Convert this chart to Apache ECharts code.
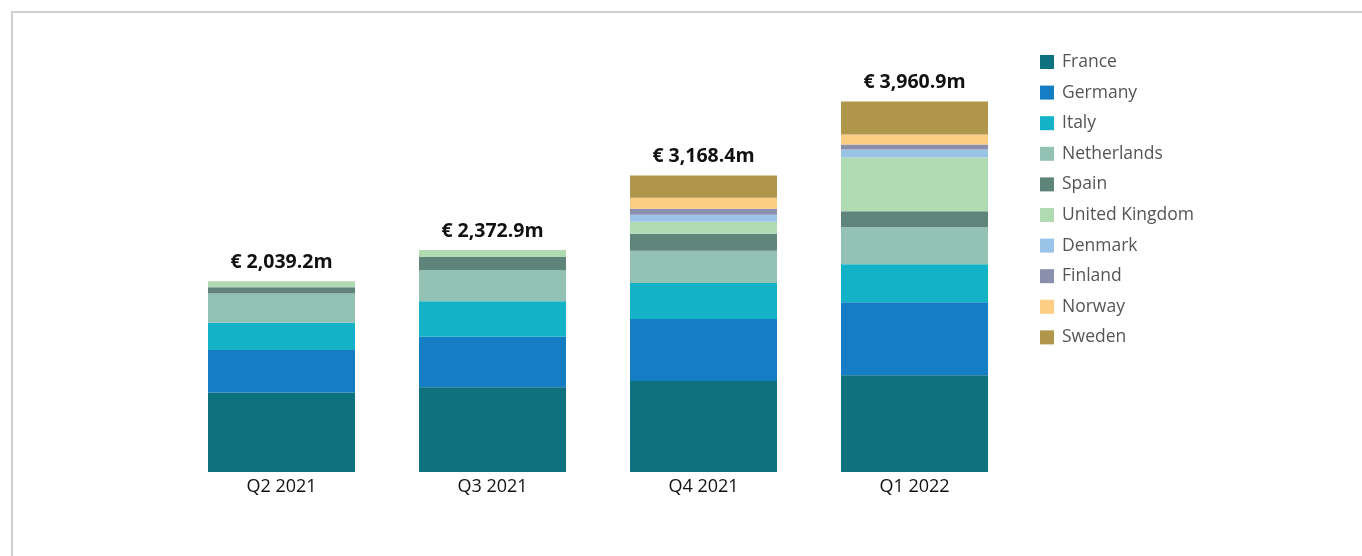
<!DOCTYPE html>
<html>
<head>
<meta charset="utf-8">
<script src="https://cdn.jsdelivr.net/npm/echarts@6/dist/echarts.min.js"></script>
<style>
  html, body { margin: 0; padding: 0; background: #fff; }
  #chart { width: 1362px; height: 556px; }
</style>
</head>
<body>
<div id="chart"></div>
<script>
// quarters on the x axis
const quarters = ['Q2 2021', 'Q3 2021', 'Q4 2021', 'Q1 2022'];
// totals shown above each bar (€m)
const totals = [2039.2, 2372.9, 3168.4, 3960.9];

// per-country values (€m)
const france      = [850.2, 906.9, 971.4, 1033.9];
const germany     = [454, 539, 664, 780];
const italy       = [292, 378, 386, 406];
const netherlands = [313, 334, 343, 395];
const spain       = [65, 140, 182, 171];
const uk          = [65, 75, 129, 577];
const denmark     = [0, 0, 75, 85];
const finland     = [0, 0, 64, 53];
const norway      = [0, 0, 118, 107];
const sweden      = [0, 0, 236, 353];

const countries = [
  { name: 'France', data: france, color: '#0e727e' },
  { name: 'Germany', data: germany, color: '#157dc3' },
  { name: 'Italy', data: italy, color: '#14b2c6' },
  { name: 'Netherlands', data: netherlands, color: '#93c2b5' },
  { name: 'Spain', data: spain, color: '#5f857b' },
  { name: 'United Kingdom', data: uk, color: '#b0dab2' },
  { name: 'Denmark', data: denmark, color: '#9ac3e8' },
  { name: 'Finland', data: finland, color: '#8a8fad' },
  { name: 'Norway', data: norway, color: '#fecd84' },
  { name: 'Sweden', data: sweden, color: '#b0964b' }
];

const myChart = echarts.init(document.getElementById('chart'));

let series = [];
countries.forEach((c) => {
  series.push({
    name: c.name,
    type: 'bar',
    stack: 'total',
    barWidth: 147,
    itemStyle: { color: c.color },
    data: c.data
  });
});

// invisible bar the height of the total, only to carry the label
series.push({
  name: 'Total',
  type: 'bar',
  barWidth: 147,
  barGap: '-100%',
  z: 1,
  itemStyle: { color: 'rgba(0,0,0,0)' },
  label: {
    show: true,
    position: 'top',
    distance: 9,
    fontFamily: 'Open Sans',
    fontWeight: 'bold',
    fontSize: 19.5,
    color: '#111',
    formatter: function (p) {
      return '€ ' + p.value.toLocaleString('en-US', { minimumFractionDigits: 1, maximumFractionDigits: 1 }) + 'm';
    }
  },
  data: totals
});

const option = {
  animation: false,
  graphic: [
    {
      type: 'rect',
      shape: { x: 12, y: 12, width: 1400, height: 600 },
      style: { fill: 'none', stroke: '#cfcfcf', lineWidth: 2 }
    }
  ],
  legend: {
    orient: 'vertical',
    left: 1035,
    top: 48,
    itemWidth: 14,
    itemHeight: 14,
    itemGap: 12.6,
    icon: 'rect',
    data: countries.map((c) => c.name),
    textStyle: {
      fontFamily: 'Open Sans',
      fontSize: 17.5,
      lineHeight: 18,
      color: '#555',
      padding: [0, 0, 0, 3]
    }
  },
  grid: { left: 176, right: 342, top: 51, bottom: 84 },
  xAxis: {
    type: 'category',
    data: quarters,
    axisLine: { show: false },
    axisTick: { show: false },
    axisLabel: {
      margin: 6,
      fontFamily: 'Open Sans',
      fontSize: 18,
      color: '#111'
    }
  },
  yAxis: {
    type: 'value',
    min: 0,
    max: 4500,
    show: false
  },
  series: series
};

myChart.setOption(option);
</script>
</body>
</html>
